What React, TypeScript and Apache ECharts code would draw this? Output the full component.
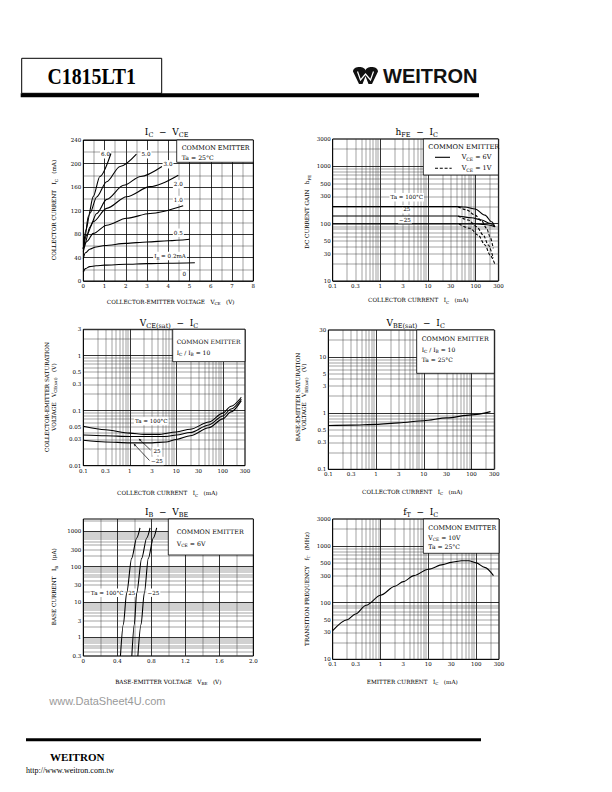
import React, { useEffect, useRef } from "react";
import * as echarts from "echarts";

// ---------------- tick labels ----------------
const vceTicks = [0, 1, 2, 3, 4, 5, 6, 7, 8];
const icLinTicks = [0, 40, 80, 120, 160, 200, 240];
const currentLogTicks = [0.1, 0.3, 1, 3, 10, 30, 100, 300];
const hfeTicks = [10, 30, 50, 100, 300, 500, 1000, 3000];
const vceSatTicks = [0.01, 0.03, 0.05, 0.1, 0.3, 0.5, 1, 3];
const vbeSatTicks = [0.1, 0.3, 0.5, 1, 3, 5, 10, 30];
const ibTicks = [0.3, 1, 3, 10, 30, 100, 300, 1000];
const vbeTicks = [0, 0.4, 0.8, 1.2, 1.6, 2.0];
const ftTicks = [10, 30, 50, 100, 300, 500, 1000, 3000];

// ---------------- Chart 1: IC - VCE  [VCE (V), IC (mA)] ----------------
const icIb02 = [[0, 15], [0.1, 21], [0.3, 24.5], [0.6, 26], [1, 27], [2, 28.5], [3, 29.5], [4, 30.2], [5.25, 31]];
const icIb05 = [[0, 38], [0.1, 48], [0.3, 54], [0.6, 58], [1, 60.5], [2, 64], [3, 66.5], [4, 68.5], [5, 71]];
const icIb10 = [[0, 50], [0.16, 67], [0.47, 81], [1.1, 95], [2.04, 106.7], [3.14, 115], [4.7, 128]];
const icIb20 = [[0, 55], [0.16, 78], [0.47, 101], [1.1, 123.7], [2.04, 143.5], [3.14, 160.6], [4.47, 180]];
const icIb30 = [[0, 55], [0.08, 64], [0.31, 92], [0.63, 115], [1.1, 139], [1.9, 163], [2.7, 178], [3.7, 195]];
const icIb50 = [[0, 55], [0.125, 87], [0.31, 115], [0.63, 143], [1.1, 169], [1.73, 195], [2.5, 216]];
const icIb60 = [[0, 55], [0.08, 75], [0.235, 110], [0.47, 144], [0.78, 178], [1.3, 217]];

// ---------------- Chart 2: hFE - IC  [IC (mA), hFE] ----------------
const hfe6v100 = [[0.1, 198], [40, 198], [60, 195], [97, 180], [157, 141], [216, 108], [254, 88]];
const hfe6v25 = [[0.1, 136], [40, 136], [82, 127], [134, 116], [200, 101], [254, 88]];
const hfe6vM25 = [[0.1, 99], [100, 99], [150, 97], [200, 94], [254, 88]];
const hfe1v100 = [[43, 198], [65, 173], [97, 141], [134, 111], [170, 83], [200, 59], [234, 37]];
const hfe1v25 = [[43, 136], [70, 116], [105, 88.5], [145, 63], [184, 42.5], [234, 25]];
const hfe1vM25 = [[45, 99], [76, 83], [113, 63], [157, 42.5], [200, 28.4], [254, 19.5]];

// ---------------- Chart 3: VCE(sat) - IC  [IC (mA), V] ----------------
const vceSat100 = [[0.1, 0.052], [0.3, 0.045], [1, 0.039], [2, 0.037], [4, 0.037], [10, 0.041], [20, 0.046], [50, 0.062], [100, 0.09], [150, 0.12], [250, 0.175]];
const vceSat25 = [[0.1, 0.036], [0.3, 0.035], [1, 0.034], [3, 0.034], [6, 0.034], [10, 0.036], [20, 0.04], [50, 0.055], [100, 0.08], [150, 0.107], [250, 0.163]];
const vceSatM25 = [[0.1, 0.029], [0.3, 0.027], [1, 0.026], [3, 0.026], [6, 0.027], [10, 0.03], [20, 0.035], [50, 0.049], [100, 0.071], [150, 0.095], [250, 0.152]];

// ---------------- Chart 4: VBE(sat) - IC  [IC (mA), V] ----------------
const vbeSat25 = [[0.1, 0.6], [0.3, 0.61], [1, 0.63], [3, 0.67], [10, 0.73], [30, 0.82], [100, 0.93], [250, 1.06]];

// ---------------- Chart 5: IB - VBE  [VBE (V), IB (uA)] ----------------
const ibVbe100 = [[0.437, 0.3], [0.471, 2.3], [0.51, 18], [0.569, 170], [0.628, 640], [0.667, 1230]];
const ibVbe25 = [[0.571, 0.3], [0.6, 2.3], [0.628, 18], [0.687, 170], [0.746, 640], [0.785, 1230]];
const ibVbeM25 = [[0.642, 0.3], [0.679, 2.3], [0.718, 18], [0.765, 170], [0.824, 640], [0.863, 1230]];

// ---------------- Chart 6: fT - IC  [IC (mA), fT (MHz)] ----------------
const ftIc = [[0.1, 32], [0.2, 50], [0.3, 63], [0.5, 90], [1, 135], [2, 195], [3, 235], [5, 300], [10, 390], [20, 470], [30, 515], [50, 550], [70, 548], [100, 505], [150, 420], [230, 300]];

// ---------------- helpers ----------------
const FONT = "'DejaVu Serif', 'Liberation Serif', serif";

type GL = { v: number; major: boolean };
function linLines(min: number, max: number, step: number, majorEvery: number): GL[] {
  const out: GL[] = [];
  const n = Math.round((max - min) / step);
  for (let i = 0; i <= n; i++) {
    const v = +(min + i * step).toFixed(6);
    const q = v / majorEvery;
    out.push({ v, major: Math.abs(q - Math.round(q)) < 1e-6 });
  }
  return out;
}
function logLines(min: number, max: number): GL[] {
  const out: GL[] = [];
  for (let e = -3; e <= 4; e++) {
    for (let m = 1; m <= 9; m++) {
      const v = parseFloat((m * Math.pow(10, e)).toPrecision(6));
      if (v >= min * 0.9999 && v <= max * 1.0001) out.push({ v, major: m === 1 });
    }
  }
  return out;
}
function fmtNum(v: number): string {
  return String(parseFloat(Number(v).toPrecision(4)));
}

type AxisSpec = { type: "value" | "log"; min: number; max: number; ticks: number[]; fmt?: (v: number) => string };
type Curve = { data: number[][]; dashed?: boolean };
type Panel = { rect: number[]; x: AxisSpec; y: AxisSpec; xGrid: GL[]; yGrid: GL[]; curves: Curve[] };

const panels: Panel[] = [
  {
    rect: [83.3, 140, 170, 141],
    x: { type: "value", min: 0, max: 8, ticks: vceTicks },
    y: { type: "value", min: 0, max: 240, ticks: icLinTicks },
    xGrid: linLines(0, 8, 0.5, 1),
    yGrid: linLines(0, 240, 20, 40),
    curves: [{ data: icIb02 }, { data: icIb05 }, { data: icIb10 }, { data: icIb20 }, { data: icIb30 }, { data: icIb50 }, { data: icIb60 }],
  },
  {
    rect: [332.7, 139, 165.7, 142],
    x: { type: "log", min: 0.1, max: 300, ticks: currentLogTicks },
    y: { type: "log", min: 10, max: 3000, ticks: hfeTicks },
    xGrid: logLines(0.1, 300),
    yGrid: logLines(10, 3000),
    curves: [
      { data: hfe6v100 }, { data: hfe6v25 }, { data: hfe6vM25 },
      { data: hfe1v100, dashed: true }, { data: hfe1v25, dashed: true }, { data: hfe1vM25, dashed: true },
    ],
  },
  {
    rect: [83.3, 329.3, 161.7, 136.4],
    x: { type: "log", min: 0.1, max: 300, ticks: currentLogTicks },
    y: { type: "log", min: 0.01, max: 3, ticks: vceSatTicks },
    xGrid: logLines(0.1, 300),
    yGrid: logLines(0.01, 3),
    curves: [{ data: vceSat100 }, { data: vceSat25 }, { data: vceSatM25 }],
  },
  {
    rect: [328.3, 330, 166, 139.3],
    x: { type: "log", min: 0.1, max: 300, ticks: currentLogTicks },
    y: { type: "log", min: 0.1, max: 30, ticks: vbeSatTicks },
    xGrid: logLines(0.1, 300),
    yGrid: logLines(0.1, 30),
    curves: [{ data: vbeSat25 }],
  },
  {
    rect: [83.3, 519, 170, 137],
    x: { type: "value", min: 0, max: 2, ticks: vbeTicks, fmt: (v: number) => (v === 0 ? "0" : Number(v).toFixed(1)) },
    y: { type: "log", min: 0.3, max: 2200, ticks: ibTicks },
    xGrid: linLines(0, 2, 0.2, 0.4),
    yGrid: logLines(0.3, 2200),
    curves: [{ data: ibVbe100 }, { data: ibVbe25 }, { data: ibVbeM25 }],
  },
  {
    rect: [332.7, 519, 166.3, 140.3],
    x: { type: "log", min: 0.1, max: 300, ticks: currentLogTicks },
    y: { type: "log", min: 10, max: 3000, ticks: ftTicks },
    xGrid: logLines(0.1, 300),
    yGrid: logLines(10, 3000),
    curves: [{ data: ftIc }],
  },
];

function mkAxis(spec: AxisSpec, i: number, dim: "x" | "y") {
  const isLog = spec.type === "log";
  const a: any = {
    type: spec.type,
    gridIndex: i,
    min: isLog ? spec.min * (1 - 1e-7) : spec.min,
    max: isLog ? spec.max * (1 + 1e-7) : spec.max,
    axisLine: { show: false },
    axisTick: { show: false },
    splitLine: { show: false },
    minorTick: { show: false },
    minorSplitLine: { show: false },
    axisPointer: { show: false },
    silent: true,
    axisLabel: {
      show: true,
      customValues: spec.ticks,
      formatter: (v: number) => (spec.fmt || fmtNum)(v),
      fontFamily: FONT,
      fontSize: 5.5,
      color: "#000",
      margin: 2,
      hideOverlap: false,
      showMinLabel: true,
      showMaxLabel: true,
    },
  };
  if (isLog) a.logBase = 10;
  else a.interval = spec.ticks[1] - spec.ticks[0];
  return a;
}

function rich(src: string, fs: number) {
  const parts: string[] = [];
  const re = /_\{([^}]*)\}/g;
  let last = 0;
  let m: RegExpExecArray | null;
  while ((m = re.exec(src))) {
    if (m.index > last) parts.push(`{a|${src.slice(last, m.index)}}`);
    parts.push(`{s|${m[1]}}`);
    last = m.index + m[0].length;
  }
  if (last < src.length) parts.push(`{a|${src.slice(last)}}`);
  const sf = fs * 0.72;
  return {
    text: parts.join(""),
    rich: {
      a: { fontSize: fs, fontFamily: FONT, fill: "#000", lineHeight: fs * 1.5 },
      s: { fontSize: sf, fontFamily: FONT, fill: "#000", lineHeight: sf, verticalAlign: "bottom" },
    },
  };
}

function txt(x: number, y: number, src: string, fs: number, o: any = {}) {
  const r = rich(src, fs);
  const align = o.align || "left";
  return {
    type: "text",
    x,
    y,
    rotation: o.rot || 0,
    z: o.z ?? 60,
    silent: true,
    style: {
      text: r.text,
      rich: r.rich,
      fontSize: fs,
      fontFamily: FONT,
      fill: "#000",
      align,
      textAlign: align,
      verticalAlign: "middle",
      textVerticalAlign: "middle",
      backgroundColor: o.bg,
      padding: o.bg ? [0, 1] : 0,
    },
  };
}

function plain(x: number, y: number, text: string, font: any, o: any = {}) {
  const align = o.align || "left";
  return {
    type: "text",
    x,
    y,
    z: 60,
    silent: true,
    scaleX: o.scaleX || 1,
    style: {
      text,
      fill: o.fill || "#000",
      align,
      textAlign: align,
      verticalAlign: "middle",
      textVerticalAlign: "middle",
      ...font,
    },
  };
}

function box(x: number, y: number, w: number, h: number) {
  return { type: "rect", z: 3, silent: true, shape: { x, y, width: w, height: h }, style: { fill: "#fff", stroke: "#000", lineWidth: 0.8 } };
}
function seg(x1: number, y1: number, x2: number, y2: number, w = 0.8, dash?: number[]) {
  return { type: "line", z: 60, silent: true, shape: { x1, y1, x2, y2 }, style: { stroke: "#000", lineWidth: w, lineDash: dash } };
}
function arrow(x1: number, y1: number, x2: number, y2: number) {
  const dx = x2 - x1, dy = y2 - y1;
  const len = Math.sqrt(dx * dx + dy * dy);
  const ux = dx / len, uy = dy / len;
  const bx = x2 - ux * 3, by = y2 - uy * 3;
  return [
    seg(x1, y1, bx, by, 0.7),
    { type: "polygon", z: 60, silent: true, shape: { points: [[x2, y2], [bx - uy * 1.1, by + ux * 1.1], [bx + uy * 1.1, by - ux * 1.1]] }, style: { fill: "#000" } },
  ];
}

let logoDone = false;
function ensureLogo() {
  if (logoDone) return;
  const d = "M0 5 C0 -1 12 -1 12.5 4 C13 -1 25 -1 25 5 L19 18 L15.5 18 L12.5 10 L9.5 18 L6 18 Z";
  (echarts as any).graphic.registerShape("wlogo", (echarts as any).graphic.extendPath(d, {}));
  logoDone = true;
}

function buildGraphics() {
  const g: any[] = [];
  const serifB = { fontFamily: "'Liberation Serif', serif", fontWeight: "bold" };
  // header
  g.push({ type: "rect", z: 60, silent: true, shape: { x: 21.7, y: 58.3, width: 140, height: 35 }, style: { fill: "none", stroke: "#000", lineWidth: 1 } });
  g.push({ type: "rect", z: 60, silent: true, shape: { x: 20.7, y: 93.3, width: 458.3, height: 4 }, style: { fill: "#000" } });
  g.push(plain(91.7, 76, "C1815LT1", { ...serifB, fontSize: 23 }, { align: "center", scaleX: 0.86 }));
  g.push({ type: "wlogo", x: 353, y: 66.7, scaleX: 1, scaleY: 0.96, z: 60, silent: true, style: { fill: "#111" } });
  g.push({ type: "polyline", z: 61, silent: true, shape: { points: [[357.5, 71.5], [360.5, 80], [365.5, 74], [370.5, 80], [373.5, 71.5]] }, style: { stroke: "#fff", lineWidth: 1.2, fill: "none" } });
  g.push(plain(383, 75.8, "WEITRON", { fontFamily: "'Liberation Sans', Arial, sans-serif", fontWeight: "bold", fontSize: 20 }, { fill: "#111" }));
  // footer
  g.push(plain(49.3, 701, "www.DataSheet4U.com", { fontFamily: "'Liberation Sans', Arial, sans-serif", fontSize: 11 }, { fill: "#9a9a9a" }));
  g.push({ type: "rect", z: 60, silent: true, shape: { x: 26, y: 738.3, width: 455, height: 3 }, style: { fill: "#000" } });
  g.push(plain(50, 756.7, "WEITRON", { ...serifB, fontSize: 11 }));
  g.push(plain(26, 770.7, "http://www.weitron.com.tw", { fontFamily: "'Liberation Serif', serif", fontSize: 8 }));

  // titles
  const TF = 9;
  g.push(txt(166.7, 131.7, "I_{C}  −  V_{CE}", TF, { align: "center" }));
  g.push(txt(416.7, 131.7, "h_{FE}  −  I_{C}", TF, { align: "center" }));
  g.push(txt(169, 322.7, "V_{CE(sat)}  −  I_{C}", TF, { align: "center" }));
  g.push(txt(415.7, 322.7, "V_{BE(sat)}  −  I_{C}", TF, { align: "center" }));
  g.push(txt(166.7, 511.7, "I_{B}  −  V_{BE}", TF, { align: "center" }));
  g.push(txt(420.7, 511.7, "f_{T}  −  I_{C}", TF, { align: "center" }));

  // axis titles
  const AF = 5.7;
  const R = Math.PI / 2;
  g.push(txt(170.7, 301.7, "COLLECTOR-EMITTER VOLTAGE   V_{CE}   (V)", AF, { align: "center" }));
  g.push(txt(418.3, 300, "COLLECTOR CURRENT   I_{C}   (mA)", AF, { align: "center" }));
  g.push(txt(167.3, 493.3, "COLLECTOR CURRENT   I_{C}   (mA)", AF, { align: "center" }));
  g.push(txt(412.3, 491.7, "COLLECTOR CURRENT   I_{C}   (mA)", AF, { align: "center" }));
  g.push(txt(168.3, 681.7, "BASE-EMITTER VOLTAGE   V_{BE}   (V)", AF, { align: "center" }));
  g.push(txt(412.3, 681.7, "EMITTER CURRENT   I_{C}   (mA)", AF, { align: "center" }));
  g.push(txt(54.3, 210, "COLLECTOR CURRENT   I_{C}   (mA)", AF, { align: "center", rot: R }));
  g.push(txt(307.3, 211.7, "DC CURRENT GAIN   h_{FE}", AF, { align: "center", rot: R }));
  g.push(txt(46.7, 397, "COLLECTOR-EMITTER SATURATION", AF, { align: "center", rot: R }));
  g.push(txt(53.5, 397, "VOLTAGE   V_{CE(sat)}   (V)", AF, { align: "center", rot: R }));
  g.push(txt(297.7, 397, "BASE-EMITTER SATURATION", AF, { align: "center", rot: R }));
  g.push(txt(304.3, 397, "VOLTAGE   V_{BE(sat)}   (V)", AF, { align: "center", rot: R }));
  g.push(txt(54.3, 586.7, "BASE CURRENT   I_{B}   (μA)", AF, { align: "center", rot: R }));
  g.push(txt(306.7, 589, "TRANSITION FREQUENCY   f_{T}   (MHz)", AF, { align: "center", rot: R }));

  // legend boxes
  g.push(box(176.7, 140, 76.6, 22.3));
  g.push(txt(181.7, 147.7, "COMMON EMITTER", 6.4));
  g.push(txt(181.7, 157.3, "Ta = 25°C", 6.2));

  g.push(box(423.3, 139, 75.1, 36));
  g.push(txt(428.3, 146.7, "COMMON EMITTER", 6.7));
  g.push(seg(435, 157.3, 450, 157.3, 1.1));
  g.push(txt(461.7, 157.3, "V_{CE} = 6V", 6.4));
  g.push(seg(435, 168.3, 451.7, 168.3, 1.1, [3, 1.8]));
  g.push(txt(461.7, 168.3, "V_{CE} = 1V", 6.4));

  g.push(box(172.7, 329.3, 72.3, 32.4));
  g.push(txt(176.7, 341, "COMMON EMITTER", 6.0));
  g.push(txt(176.7, 352.3, "I_{C} / I_{B} = 10", 6.0));

  g.push(box(416.7, 330, 77.6, 43.3));
  g.push(txt(421.7, 338.3, "COMMON EMITTER", 6.3));
  g.push(txt(421.7, 349.3, "I_{C} / I_{B} = 10", 6.0));
  g.push(txt(421.7, 359, "Ta = 25°C", 6.0));

  g.push(box(168.3, 519, 85, 36));
  g.push(txt(176.7, 531.7, "COMMON EMITTER", 6.3));
  g.push(txt(176.7, 543.3, "V_{CE} = 6V", 6.2));

  g.push(box(423.3, 519, 75.7, 34.3));
  g.push(txt(428.3, 528.3, "COMMON EMITTER", 6.4));
  g.push(txt(428.3, 537.3, "V_{CE} = 10V", 6.1));
  g.push(txt(428.3, 546.7, "Ta = 25°C", 6.1));

  // curve annotations
  const LF = 5.6;
  const lb = (x: number, y: number, s: string, align = "center") => txt(x, y, s, LF, { align, bg: "#fff", z: 3 });
  g.push(lb(105.5, 154.3, "6.0"));
  g.push(lb(146, 154.3, "5.0"));
  g.push(lb(168, 164.3, "3.0"));
  g.push(lb(178.3, 184.3, "2.0"));
  g.push(lb(178.3, 200, "1.0"));
  g.push(lb(178.3, 232.7, "0.5"));
  g.push(lb(170, 256, "I_{B} = 0.2mA"));
  g.push(lb(184.3, 274.3, "0"));

  g.push(lb(406.7, 197.3, "Ta = 100°C"));
  g.push(lb(406.7, 209.3, "25"));
  g.push(lb(405, 220, "−25"));

  g.push(lb(151.2, 421, "Ta = 100°C"));
  g.push(lb(157, 451, "25"));
  g.push(lb(157, 461, "−25"));
  arrow(150.5, 450, 138.6, 438.5).forEach((e) => g.push(e));
  arrow(149.5, 460.5, 133.5, 443.5).forEach((e) => g.push(e));

  g.push(lb(124.5, 592.7, "Ta = 100°C", "right"));
  g.push(lb(131.8, 592.7, "25"));
  g.push(lb(146.5, 592.7, "−25", "left"));
  return g;
}

function buildOption() {
  const grid = panels.map((p) => ({
    left: p.rect[0],
    top: p.rect[1],
    width: p.rect[2],
    height: p.rect[3],
    show: true,
    borderColor: "#000",
    borderWidth: 1,
    backgroundColor: "rgba(0,0,0,0)",
    containLabel: false,
    outerBoundsMode: "none",
  }));
  const xAxis = panels.map((p, i) => mkAxis(p.x, i, "x"));
  const yAxis = panels.map((p, i) => mkAxis(p.y, i, "y"));
  const gls = (major: boolean) => ({ color: major ? "#000" : "#333", width: major ? 0.8 : 0.45, type: "solid" });
  const series: any[] = [];
  panels.forEach((p, i) => {
    series.push({
      type: "line",
      xAxisIndex: i,
      yAxisIndex: i,
      data: [[p.x.min, p.y.min]],
      symbol: "none",
      showSymbol: false,
      silent: true,
      z: 1,
      lineStyle: { width: 0 },
      markLine: {
        z: 1,
        zlevel: 0,
        silent: true,
        animation: false,
        symbol: ["none", "none"],
        label: { show: false },
        emphasis: { disabled: true },
        lineStyle: { type: "solid" },
        data: [
          ...p.xGrid.map((g) => ({ xAxis: g.v, lineStyle: gls(g.major) })),
          ...p.yGrid.map((g) => ({ yAxis: g.v, lineStyle: gls(g.major) })),
        ],
      },
    });
    p.curves.forEach((c) => {
      series.push({
        type: "line",
        xAxisIndex: i,
        yAxisIndex: i,
        data: c.data,
        symbol: "none",
        showSymbol: false,
        smooth: 0.3,
        smoothMonotone: "x",
        silent: true,
        z: 5,
        clip: true,
        lineStyle: { color: "#000", width: 1.1, type: c.dashed ? [3, 1.8] : "solid" },
      });
    });
  });
  return {
    animation: false,
    backgroundColor: "#fff",
    textStyle: { fontFamily: FONT },
    grid,
    xAxis,
    yAxis,
    series,
    graphic: { elements: buildGraphics() },
  };
}

export default function App() {
  const ref = useRef<HTMLDivElement>(null);
  useEffect(() => {
    if (!ref.current) return;
    ensureLogo();
    const chart = echarts.init(ref.current, undefined, { renderer: "svg" });
    chart.setOption(buildOption() as any);
    return () => chart.dispose();
  }, []);
  return <div ref={ref} style={{ position: "fixed", left: 0, top: 0, width: 612, height: 792, background: "#fff" }} />;
}
